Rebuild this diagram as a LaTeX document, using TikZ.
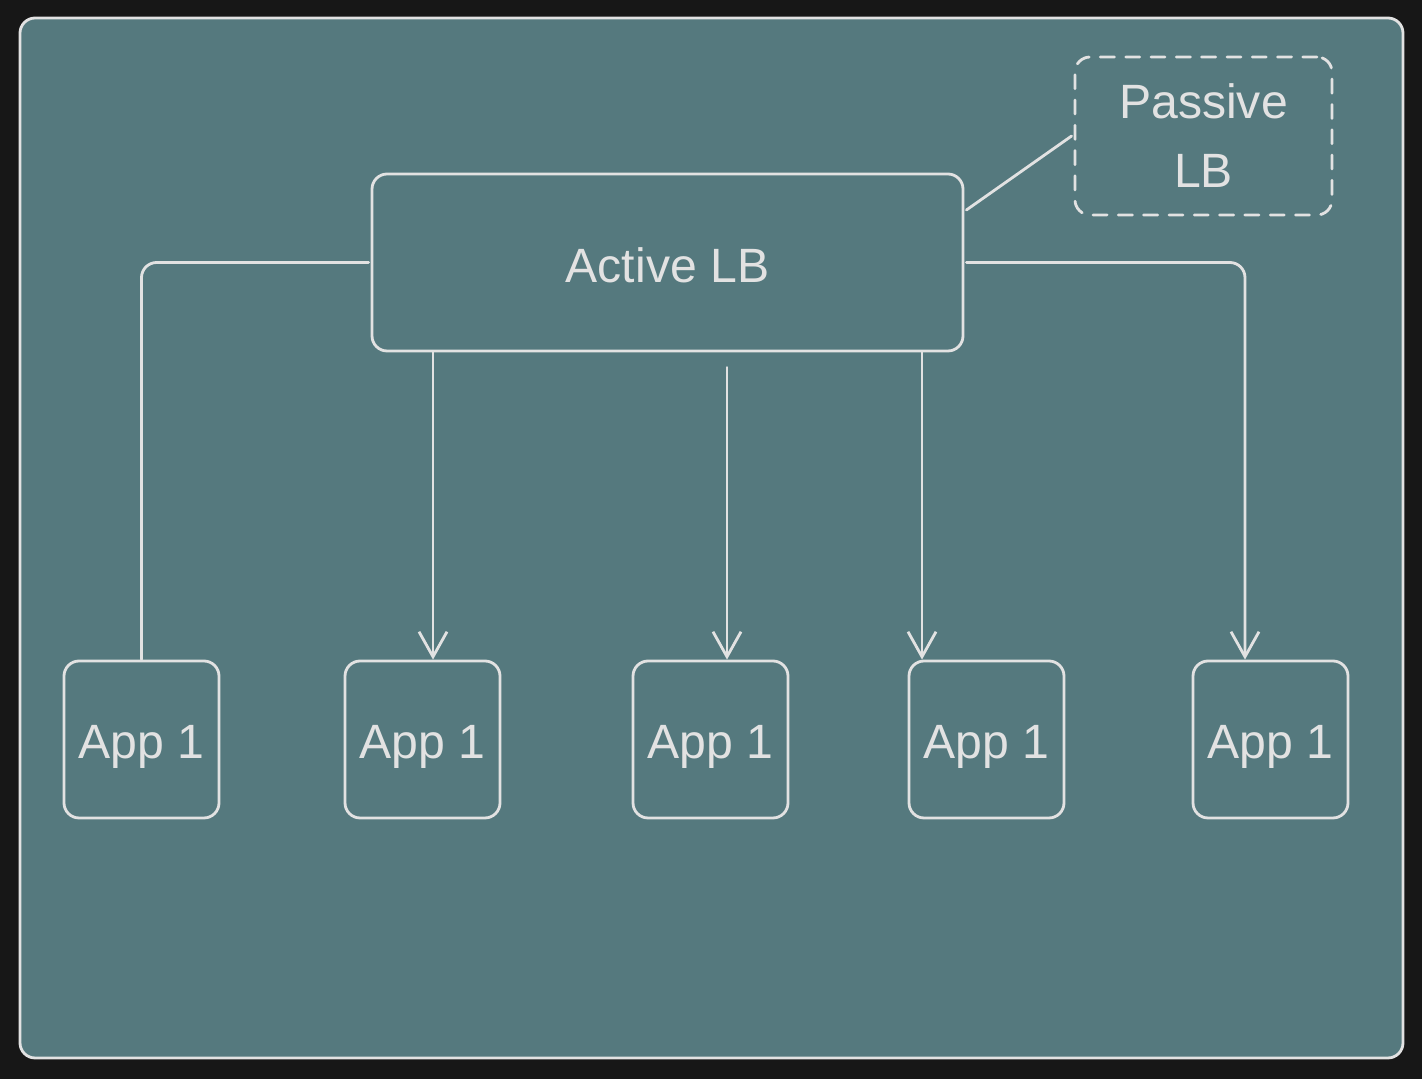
\documentclass[tikz,border=0pt]{standalone}
\usepackage{fontspec}
\setmainfont{Liberation Sans}
\usetikzlibrary{calc}
\usetikzlibrary{arrows.meta}
\definecolor{pagebg}{RGB}{23,23,23}
\definecolor{panelbg}{RGB}{85,121,126}
\definecolor{chalk}{RGB}{226,226,226}
\tikzstyle{every node}=[font=\fontsize{13.7}{19.6}\selectfont,text=chalk]
\tikzstyle{every path}=[line width=0.8pt,line cap=round,line join=round]
\tikzstyle{lbbox}=[draw=chalk,rounded corners=4.3pt,minimum width=5.91cm,minimum height=1.77cm,text height=4.1mm,text depth=0mm]
\tikzstyle{appbox}=[draw=chalk,rounded corners=4.3pt,minimum width=1.55cm,minimum height=1.57cm,text height=4.8mm,text depth=1mm]
\tikzstyle{standby}=[draw=chalk,dashed,dash pattern=on 4pt off 3.2pt,rounded corners=4.3pt,minimum width=2.57cm,minimum height=1.58cm,align=center]

\begin{document}
\begin{tikzpicture}
		\tikzstyle{arrow} = [-{Straight Barb[length=2.5mm, width=2.8mm]}]
		\tikzstyle{wire} = [draw=chalk,rounded corners=4.3pt]
		
		% page and panel
		\fill[pagebg] (0,0) rectangle (14.22,10.79);
		\useasboundingbox (0,0) rectangle (14.22,10.79);
		\draw[chalk,fill=panelbg,line width=0.8pt,rounded corners=4.3pt] (0.2,0.21) rectangle (14.03,10.61);
		
		\node[lbbox] at (6.675,8.165) (active) {Active LB};
		\node[standby] at (12.035,9.43) (passive) {Passive\\LB};
		
		\node[appbox] at (1.415,3.395) (app1) {App 1};
		\node[appbox] at (4.225,3.395) (app2) {App 1};
		\node[appbox] at (7.105,3.395) (app3) {App 1};
		\node[appbox] at (9.865,3.395) (app4) {App 1};
		\node[appbox] at (12.705,3.395) (app5) {App 1};
		
		\draw[wire] ([xshift=-0.02cm]active.west) -| (app1.north);
		\draw[wire,arrow] ([xshift=-2.345cm]active.south) -- ([xshift=-2.345cm]active.south |- app2.north);
		\draw[wire,arrow] ([xshift=0.595cm,yshift=-0.15cm]active.south) -- ([xshift=0.595cm]active.south |- app3.north);
		\draw[wire,arrow] ([xshift=2.545cm]active.south) -- ([xshift=2.545cm]active.south |- app4.north);
		\draw[wire,arrow] ([xshift=0.02cm]active.east) -| ([xshift=-0.255cm]app5.north);
		
		\draw[chalk] ([xshift=0.02cm,yshift=0.525cm]active.east) -- ([xshift=-0.02cm]passive.west);
		
	\end{tikzpicture}
\end{document}
